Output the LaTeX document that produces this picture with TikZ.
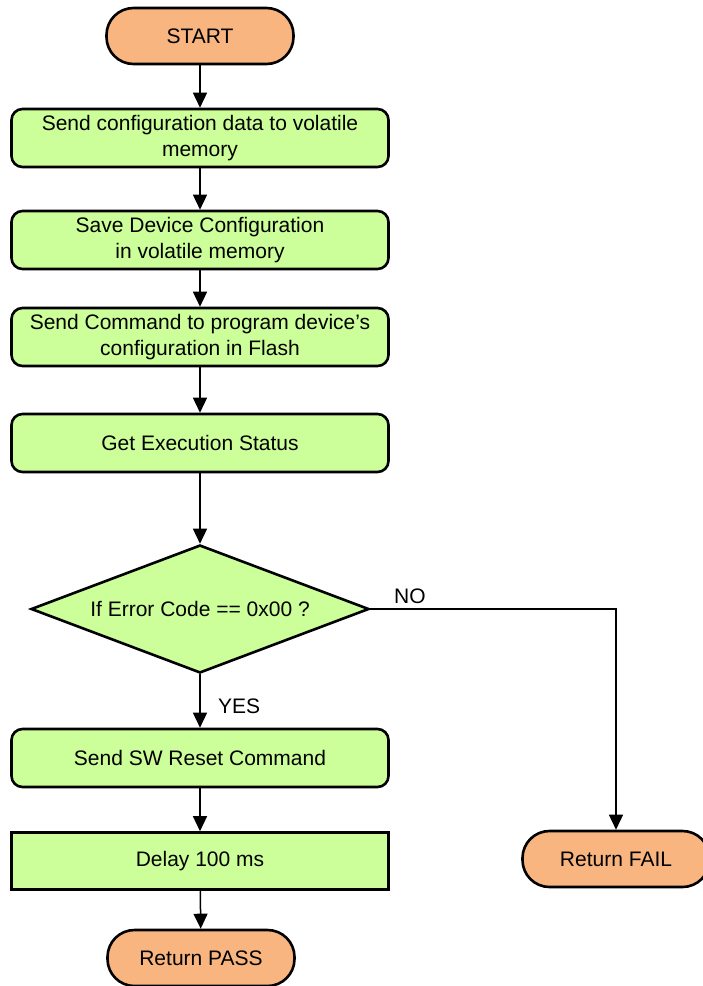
\documentclass[tikz,border=0pt]{standalone}
\usepackage{fontspec}
\setmainfont{Liberation Sans}
\usetikzlibrary{arrows.meta,shapes.geometric}
\definecolor{stepgreen}{HTML}{CCFF99}
\definecolor{termorange}{HTML}{F8B57F}
\begin{document}
\begin{tikzpicture}[x=1pt,y=-1pt,
  base/.style={draw=black, line width=2.6pt, font=\fontsize{21}{26}\selectfont,
               align=center, inner sep=0pt, text=black},
  process/.style={base, fill=stepgreen, rounded corners=11pt,
                  minimum width=377pt, minimum height=58pt},
  plainbox/.style={base, fill=stepgreen, minimum width=377pt, minimum height=57pt},
  terminal/.style={base, fill=termorange, rounded corners=27pt,
                   minimum width=187pt, minimum height=56pt},
  decision/.style={base, fill=stepgreen, diamond, aspect=2.6,
                   minimum width=338pt, minimum height=128pt},
  flow/.style={line width=1.5pt, -{Triangle[length=15pt,width=14pt]}},
  lbl/.style={font=\fontsize{21}{26}\selectfont, anchor=west, inner sep=0pt},
]
\useasboundingbox (0,0) rectangle (702,986);

% main column
\node[terminal] (start) at (200,36)  {START};
\node[process]  (send)  at (200,138) {Send configuration data to volatile\\memory};
\node[process]  (save)  at (200,240) {Save Device Configuration\\in volatile memory};
\node[process]  (prog)  at (200,337) {Send Command to program device’s\\configuration in Flash};
\node[process]  (stat)  at (200,443) {Get Execution Status};
\node[decision] (err)   at (200,609) {If Error Code == 0x00 ?};
\node[process]  (reset) at (200,758) {Send SW Reset Command};
\node[plainbox] (delay) at (200,861) {Delay 100 ms};
\node[terminal] (pass)  at (201,958) {Return PASS};

% failure branch
\node[terminal] (fail)  at (616,859) {Return FAIL};

% branch labels
\node[lbl] (yes) at (218,706) {YES};
\node[lbl] (no)  at (394,596) {NO};

% connectors
\draw[flow] (start) -- (send);
\draw[flow] (send)  -- (save);
\draw[flow] (save)  -- (prog);
\draw[flow] (prog)  -- (stat);
\draw[flow] (stat)  -- (err);
\draw[flow] (err)   -- (reset);
\draw[flow] (reset) -- (delay);
\draw[flow] (delay) -- (pass);
\draw[flow] (err.east) -| (fail.north);
\end{tikzpicture}
\end{document}
